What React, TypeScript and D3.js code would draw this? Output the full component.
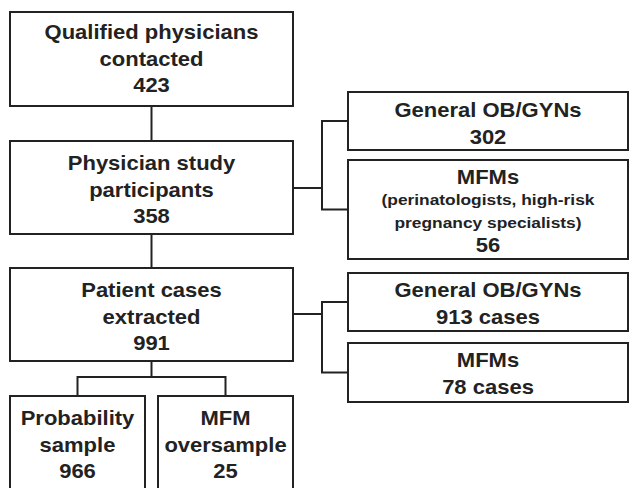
import React from "react";
import * as d3 from "d3";

// labels for each box, one string per line; "small" lines use the smaller font
const qualifiedLines = ["Qualified physicians", "contacted", "423"];
const participantLines = ["Physician study", "participants", "358"];
const casesLines = ["Patient cases", "extracted", "991"];
const probabilityLines = ["Probability", "sample", "966"];
const oversampleLines = ["MFM", "oversample", "25"];
const obgynLines = ["General OB/GYNs", "302"];
const mfmLines = ["MFMs", "(perinatologists, high-risk", "pregnancy specialists)", "56"];
const mfmSmall = [false, true, true, false];
const obgynCaseLines = ["General OB/GYNs", "913 cases"];
const mfmCaseLines = ["MFMs", "78 cases"];

const W = 630;
const H = 488;

type Box = { x0: number; x1: number; y0: number; y1: number; lines: string[]; small?: boolean[] };

const boxes: Record<string, Box> = {
  qualified: { x0: 10, x1: 293, y0: 12, y1: 106, lines: qualifiedLines },
  participants: { x0: 10, x1: 293, y0: 141, y1: 234, lines: participantLines },
  cases: { x0: 10, x1: 293, y0: 268, y1: 361, lines: casesLines },
  probability: { x0: 10, x1: 145, y0: 396, y1: 494, lines: probabilityLines },
  oversample: { x0: 158, x1: 293, y0: 396, y1: 494, lines: oversampleLines },
  obgyn: { x0: 348, x1: 628, y0: 92, y1: 150, lines: obgynLines },
  mfm: { x0: 348, x1: 628, y0: 160, y1: 259, lines: mfmLines, small: mfmSmall },
  obgynCases: { x0: 348, x1: 628, y0: 273, y1: 331, lines: obgynCaseLines },
  mfmCases: { x0: 348, x1: 628, y0: 343, y1: 402, lines: mfmCaseLines },
};

// first-line centre offset from box top
const textStart: Record<string, number> = {
  qualified: 20, participants: 22, cases: 22, probability: 22, oversample: 22,
  obgyn: 18, mfm: 17, obgynCases: 17, mfmCases: 17,
};

const ink = "#222";

export default function App() {
  const line = d3.line<[number, number]>();
  const cx = (b: Box) => (b.x0 + b.x1) / 2;
  const cy = (b: Box) => (b.y0 + b.y1) / 2;
  const q = boxes.qualified, p = boxes.participants, c = boxes.cases;
  const pr = boxes.probability, ov = boxes.oversample;
  const og = boxes.obgyn, mf = boxes.mfm, oc = boxes.obgynCases, mc = boxes.mfmCases;
  const elbowX = 322;
  const splitY = 377;

  const connectors: [number, number][][] = [
    [[cx(q), q.y1], [cx(p), p.y0]],
    [[cx(p), p.y1], [cx(c), c.y0]],
    [[cx(c), c.y1], [cx(c), splitY]],
    [[cx(pr), pr.y0], [cx(pr), splitY], [cx(ov), splitY], [cx(ov), ov.y0]],
    [[p.x1, 188], [elbowX, 188]],
    [[og.x0, cy(og)], [elbowX, cy(og)], [elbowX, cy(mf)], [mf.x0, cy(mf)]],
    [[c.x1, 314], [elbowX, 314]],
    [[oc.x0, cy(oc)], [elbowX, cy(oc)], [elbowX, cy(mc)], [mc.x0, cy(mc)]],
  ];

  const lineY = (key: string, b: Box) => {
    const ys: number[] = [];
    let y = b.y0 + textStart[key];
    b.lines.forEach((_, i) => {
      if (i > 0) {
        const small = b.small ? b.small[i] || b.small[i - 1] : false;
        y += small ? 22.5 : 26.5;
      }
      ys.push(y);
    });
    return ys;
  };

  return (
    <svg width={W} height={H} style={{ position: "absolute", left: 0, top: 0, background: "#fff" }}>
      {connectors.map((pts, i) => (
        <path key={i} d={line(pts) ?? ""} fill="none" stroke={ink} strokeWidth={2} />
      ))}
      {Object.entries(boxes).map(([key, b]) => {
        const ys = lineY(key, b);
        return (
          <g key={key}>
            <rect x={b.x0} y={b.y0} width={b.x1 - b.x0} height={b.y1 - b.y0} fill="#fff" stroke={ink} strokeWidth={2} />
            {b.lines.map((t, i) => {
              const small = b.small && b.small[i];
              return (
                <text
                  key={i}
                  transform={`translate(${cx(b)},${ys[i]}) scale(${small ? 1.12 : 1.1},1)`}
                  textAnchor="middle"
                  dominantBaseline="central"
                  fontFamily="Liberation Sans, Arial, sans-serif"
                  fontWeight="bold"
                  fontSize={small ? 15.5 : 20}
                  fill={ink}
                >
                  {t}
                </text>
              );
            })}
          </g>
        );
      })}
    </svg>
  );
}
